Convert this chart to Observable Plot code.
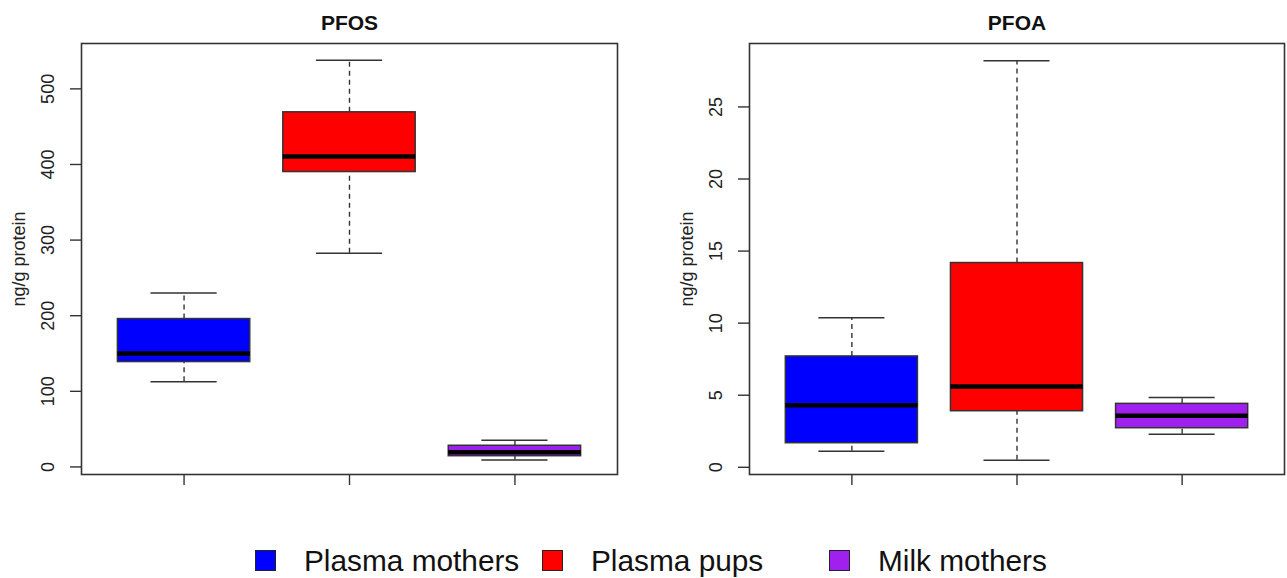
<!DOCTYPE html>
<html>
<head>
<meta charset="utf-8">
<script src="https://cdn.jsdelivr.net/npm/d3@7"></script>
<script src="https://cdn.jsdelivr.net/npm/@observablehq/plot@0.6"></script>
<style>
  html, body { margin: 0; padding: 0; background: #fff; }
  #wrap { position: relative; width: 1287px; height: 578px; overflow: hidden; font-family: Arial, "Liberation Sans", sans-serif; }
  .panel { position: absolute; top: 0; }
  #legend { position: absolute; left: 255px; top: 546px; display: flex; }
  .item { width: 287px; display: flex; align-items: center; height: 28px; }
  .sw { width: 19px; height: 19px; border: 1.5px solid #222; box-sizing: content-box; }
  .lab { margin-left: 28px; font-size: 29.8px; line-height: 28px; color: #111; position: relative; top: 1px; white-space: nowrap; }
</style>
</head>
<body>
<div id="wrap"></div>
<script>
// ---- data ----
const groups = ["Plasma mothers", "Plasma pups", "Milk mothers"];
const colors = ["#0000FF", "#FF0000", "#A020F0"];

const pfosMin = [112.6, 282.6, 9.3];
const pfosQ1  = [138.7, 390.0, 14.2];
const pfosMed = [150.0, 410.6, 19.5];
const pfosQ3  = [195.6, 469.0, 28.0];
const pfosMax = [230.0, 537.8, 35.4];
const pfosTicks = [0, 100, 200, 300, 400, 500];

const pfoaMin = [1.11, 0.49, 2.29];
const pfoaQ1  = [1.67, 3.89, 2.71];
const pfoaMed = [4.31, 5.60, 3.57];
const pfoaQ3  = [7.69, 14.17, 4.40];
const pfoaMax = [10.37, 28.20, 4.84];
const pfoaTicks = [0, 5, 10, 15, 20, 25];

const yLabel = "ng/g protein";

function rows(mn, q1, md, q3, mx) {
  return groups.map((g, i) => ({group: g, x: i + 1, min: mn[i], q1: q1[i], med: md[i], q3: q3[i], max: mx[i], color: colors[i]}));
}

function panel({title, data, ticks, yDomain, left, width, marginLeft, marginRight}) {
  const fs = 18;
  const chart = Plot.plot({
    width, height: 500,
    marginLeft, marginRight, marginTop: 43, marginBottom: 26,
    x: {domain: [0.38, 3.62]},
    y: {domain: yDomain},
    color: {type: "identity"},
    style: {fontFamily: 'Arial, "Liberation Sans", sans-serif', fontSize: fs + "px", color: "#222", background: "white", overflow: "visible"},
    marks: [
      Plot.ruleX(data, {x: "x", y1: "q3", y2: "max", stroke: "#333", strokeWidth: 1.4, strokeDasharray: "5,4"}),
      Plot.ruleX(data, {x: "x", y1: "min", y2: "q1", stroke: "#333", strokeWidth: 1.4, strokeDasharray: "5,4"}),
      Plot.ruleY(data, {y: "max", x1: d => d.x - 0.2, x2: d => d.x + 0.2, stroke: "#333", strokeWidth: 1.5}),
      Plot.ruleY(data, {y: "min", x1: d => d.x - 0.2, x2: d => d.x + 0.2, stroke: "#333", strokeWidth: 1.5}),
      Plot.rect(data, {x1: d => d.x - 0.4, x2: d => d.x + 0.4, y1: "q1", y2: "q3", fill: "color", stroke: "#333", strokeWidth: 1.5}),
      Plot.ruleY(data, {y: "med", x1: d => d.x - 0.4, x2: d => d.x + 0.4, stroke: "#000", strokeWidth: 4.5}),
      Plot.frame({stroke: "#333", strokeWidth: 1.6}),
      Plot.axisY({ticks, tickSize: 11, tickRotate: -90, tickPadding: 22, lineAnchor: "middle", fontSize: fs, label: null, stroke: "#333", strokeWidth: 1.4, fill: "#222"}),
      Plot.axisX({ticks: [1, 2, 3], tickSize: 11, tickFormat: () => "", label: null, stroke: "#333", strokeWidth: 1.4}),
      Plot.text([yLabel], {frameAnchor: "left", dx: -62.5, rotate: -90, textAnchor: "middle", lineAnchor: "middle", fontSize: fs, fill: "#222"}),
      Plot.text([title], {frameAnchor: "top", dy: -20, textAnchor: "middle", lineAnchor: "middle", fontSize: 21, fontWeight: "bold", fill: "#111"})
    ]
  });
  chart.classList.add("panel");
  chart.style.left = left + "px";
  return chart;
}

const wrap = document.getElementById("wrap");
wrap.appendChild(panel({title: "PFOS", data: rows(pfosMin, pfosQ1, pfosMed, pfosQ3, pfosMax), ticks: pfosTicks, yDomain: [-10, 560], left: 0, width: 640, marginLeft: 81, marginRight: 23}));
wrap.appendChild(panel({title: "PFOA", data: rows(pfoaMin, pfoaQ1, pfoaMed, pfoaQ3, pfoaMax), ticks: pfoaTicks, yDomain: [-0.5, 29.4], left: 640, width: 647, marginLeft: 109, marginRight: 3}));

const legend = document.createElement("div");
legend.id = "legend";
groups.forEach((g, i) => {
  const it = document.createElement("div");
  it.className = "item";
  const sw = document.createElement("div");
  sw.className = "sw";
  sw.style.background = colors[i];
  const lab = document.createElement("span");
  lab.className = "lab";
  lab.textContent = g;
  it.appendChild(sw); it.appendChild(lab);
  legend.appendChild(it);
});
wrap.appendChild(legend);
</script>
</body>
</html>
